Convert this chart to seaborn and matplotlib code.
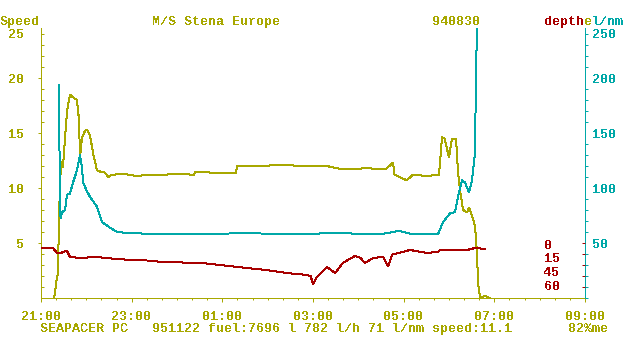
import matplotlib
matplotlib.use('Agg')
import matplotlib.pyplot as plt
import seaborn as sns
from matplotlib.ticker import MultipleLocator, FixedLocator

# hours after 21:00
speed_t = [0.29, 0.35, 0.375, 0.397, 0.419, 0.441, 0.485, 0.53, 0.574, 0.64, 0.684, 0.794, 0.838,
           0.86, 0.904, 0.971, 1.015, 1.081, 1.147, 1.235, 1.302, 1.412, 1.478, 1.566, 1.8, 2.1,
           2.4, 2.7, 3.0, 3.375, 3.4, 3.8, 4.3, 4.324, 4.8, 5.3, 5.8, 6.3, 6.662, 6.7, 7.2, 7.6,
           7.765, 7.8, 8.07, 8.2, 8.5, 8.78, 8.846, 8.9, 9.0, 9.067, 9.155, 9.199, 9.243, 9.31,
           9.398, 9.442, 9.508, 9.574, 9.618, 9.64, 9.685, 9.8, 9.9]
speed = [0.0, 1.8, 2.3, 7.4, 10.1, 12.4, 11.9, 14.5, 17.0, 18.5, 18.3, 18.0, 16.2,
         12.8, 14.6, 15.2, 15.3, 14.8, 13.2, 11.6, 11.5, 11.4, 11.0, 11.2, 11.3, 11.1,
         11.2, 11.2, 11.3, 11.2, 11.45, 11.4, 11.4, 12.0, 12.0, 12.1, 12.0, 12.0, 11.7, 11.7, 11.8, 11.7,
         12.3, 11.2, 10.7, 11.2, 11.1, 11.2, 14.6, 14.5, 12.8, 14.5, 14.5, 11.4, 9.8, 8.0,
         7.8, 8.2, 7.5, 6.5, 4.1, 1.4, 0.0, 0.2, 0.0]

lnm_t = [0.397, 0.419, 0.441, 0.463, 0.53, 0.574, 0.64, 0.706, 0.794, 0.86, 0.904, 0.927, 1.015,
         1.081, 1.235, 1.346, 1.522, 1.677, 1.963, 2.691, 3.5, 4.5, 5.5, 6.5, 7.5, 7.898, 8.2,
         8.758, 8.868, 9.023, 9.133, 9.199, 9.288, 9.354, 9.442, 9.508, 9.574, 9.596, 9.618]
lnm = [194, 75, 73, 78, 80, 94, 95, 105, 116, 130, 119, 105, 97,
       92, 83, 69, 64, 60, 59, 58, 58, 59, 58, 59, 58, 61, 58,
       58, 69, 77, 78, 92, 107, 105, 96, 107, 132, 207, 245]

depth_t = [0.022, 0.265, 0.353, 0.463, 0.53, 0.574, 0.64, 0.86, 1.081, 1.235, 1.522, 1.963, 2.4,
           2.691, 3.441, 3.5, 4.103, 4.236, 4.986, 5.427, 5.868, 5.95, 5.996, 6.08, 6.309, 6.486,
           6.662, 6.927, 7.037, 7.148, 7.324, 7.545, 7.655, 7.743, 7.92, 8.14, 8.515, 8.758, 8.8,
           9.398, 9.574, 9.795]
depth = [6.8, 6.8, 13.6, 13.0, 11.0, 11.0, 19.0, 20.5, 19.5, 19.0, 21.0, 23.0, 24.0,
         26.0, 27.0, 27.0, 31.0, 32.0, 37.0, 41.0, 43.6, 45.0, 56.0, 47.0, 32.7, 41.0,
         27.0, 17.7, 20.0, 27.0, 20.5, 19.0, 32.0, 16.0, 13.0, 9.5, 13.6, 12.0, 10.0,
         9.5, 6.8, 8.0]

time_labels = ['21:00', '23:00', '01:00', '03:00', '05:00', '07:00', '09:00']
depth_labels = ['0', '15', '45', '60']

OLIVE = '#a8a800'
CYAN = '#00a8a8'
RED = '#a80000'
LW = 0.72  # one pixel

sns.set_style('white')
plt.rcParams['font.family'] = ['Liberation Mono', 'DejaVu Sans Mono']
plt.rcParams['font.weight'] = 'bold'
plt.rcParams['font.size'] = 9.6
plt.rcParams['text.antialiased'] = False
plt.rcParams['lines.antialiased'] = False

fig = plt.figure(figsize=(6.4, 3.5), dpi=100)
ax = fig.add_axes([41 / 640, 52 / 350, 544 / 640, 270 / 350])
ax2 = ax.twinx()
ax3 = ax.twinx()

sns.lineplot(x=speed_t, y=speed, ax=ax, color=OLIVE, linewidth=LW, estimator=None, antialiased=False)
sns.lineplot(x=lnm_t, y=lnm, ax=ax2, color=CYAN, linewidth=LW, estimator=None, antialiased=False)
sns.lineplot(x=depth_t, y=depth, ax=ax3, color=RED, linewidth=LW, estimator=None, antialiased=False)

ax.set_xlim(0, 12)
ax.set_ylim(0, 24.55)
ax2.set_ylim(0, 245.5)
ax3.set_ylim(75, -293.25)

for a in (ax, ax2, ax3):
    for s in a.spines.values():
        s.set_visible(False)
    a.set_xlabel('')
    a.set_ylabel('')
ax.spines['left'].set_visible(True)
ax.spines['left'].set_color(OLIVE)
ax.spines['bottom'].set_visible(True)
ax.spines['bottom'].set_color(OLIVE)
ax2.spines['right'].set_visible(True)
ax2.spines['right'].set_color(CYAN)
for s in (ax.spines['left'], ax.spines['bottom'], ax2.spines['right']):
    s.set_linewidth(LW)

# time axis
ax.set_xticks(range(0, 13, 2))
ax.set_xticklabels(time_labels)
ax.xaxis.set_minor_locator(MultipleLocator(1 / 3))
ax.tick_params(axis='x', which='major', direction='out', length=3, width=LW,
               color=OLIVE, labelcolor=OLIVE, pad=6, bottom=True)
ax.tick_params(axis='x', which='minor', direction='out', length=1.5, width=LW,
               color=OLIVE, bottom=True)

# speed axis
ax.yaxis.set_major_locator(FixedLocator([5, 10, 15, 20]))
ax.yaxis.set_minor_locator(MultipleLocator(1))
ax.tick_params(axis='y', which='major', direction='out', length=2.2, width=LW,
               color=OLIVE, labelcolor=OLIVE, pad=10, left=True)
ax.tick_params(axis='y', which='minor', direction='in', length=2, width=LW,
               color=OLIVE, left=True)

# l/nm axis
ax2.yaxis.set_major_locator(FixedLocator([50, 100, 150, 200]))
ax2.yaxis.set_minor_locator(MultipleLocator(10))
ax2.tick_params(axis='y', which='major', length=0, labelcolor=CYAN, pad=5, right=True)
ax2.tick_params(axis='y', which='minor', direction='out', length=2, width=LW,
                color=CYAN, right=True)

# depth ticks
ax3.yaxis.set_major_locator(FixedLocator([0, 15, 30, 45, 60]))
ax3.tick_params(axis='y', which='major', direction='in', length=2.2, width=LW,
                color=RED, labelright=False, labelleft=False, right=True)
ax3.tick_params(axis='y', which='minor', length=0)


def px_text(x, y, s, color, ha='left'):
    fig.text(x / 640, 1 - y / 350, s, color=color, ha=ha, va='center')


px_text(0, 22, 'Speed', OLIVE)
px_text(152, 22, 'M/S Stena Europe', OLIVE)
px_text(432, 22, '940830', OLIVE)
px_text(544, 22, 'depth', RED)
px_text(584, 22, 'e', OLIVE)
px_text(592, 22, 'l/nm', CYAN)
px_text(24, 35, '25', OLIVE, ha='right')
px_text(592, 35, '250', CYAN)
for lab, yy in zip(depth_labels, [246, 259, 273, 287]):
    px_text(544, yy, lab, RED)
px_text(40, 329, 'SEAPACER PC   951122 fuel:7696 l 782 l/h 71 l/nm speed:11.1', OLIVE)
px_text(568, 329, '82%me', OLIVE)

fig.savefig('out.png', dpi=100)
